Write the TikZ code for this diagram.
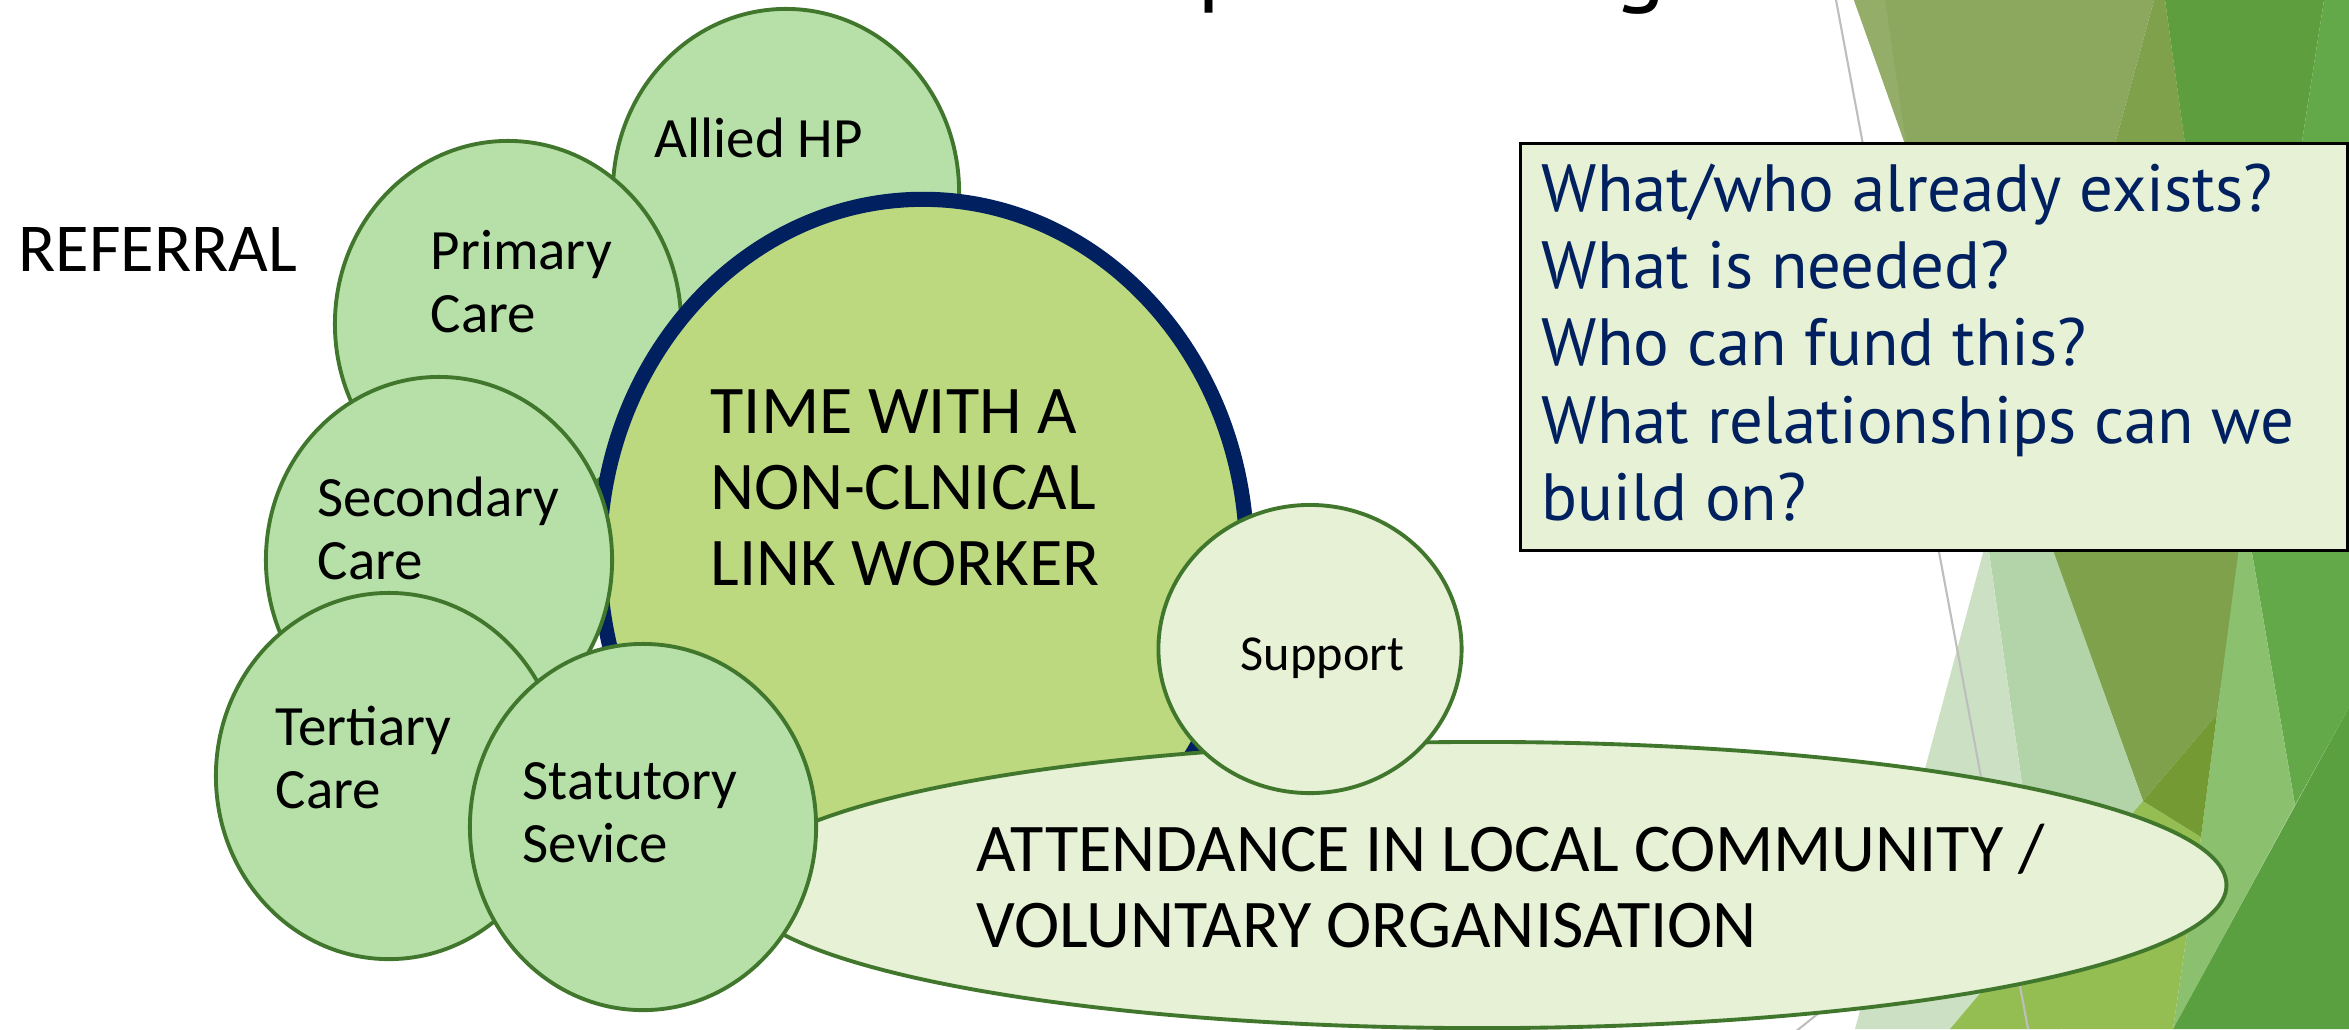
\documentclass[tikz,border=0pt]{standalone}
\usepackage{fontspec}
\setmainfont{Carlito}
\newfontfamily\boxfont{PT Sans}
\usetikzlibrary{shapes.geometric}

\definecolor{edgegreen}{RGB}{65,119,44}
\definecolor{srcfill}{RGB}{183,224,169}
\definecolor{corefill}{RGB}{189,217,127}
\definecolor{navyline}{RGB}{0,32,96}
\definecolor{palefill}{RGB}{230,241,214}
% backdrop facets
\definecolor{bgsliver}{RGB}{148,174,106}
\definecolor{bgolive}{RGB}{139,168,94}
\definecolor{bgdkolive}{RGB}{127,161,76}
\definecolor{bggreenA}{RGB}{95,158,62}
\definecolor{bggreenB}{RGB}{99,169,74}
\definecolor{bgltgreen}{RGB}{139,192,110}
\definecolor{bgdeep}{RGB}{91,160,64}
\definecolor{bgmint}{RGB}{179,211,169}
\definecolor{bgpale}{RGB}{204,225,196}
\definecolor{bgyellow}{RGB}{148,190,82}
\definecolor{bgmoss}{RGB}{116,154,51}
\definecolor{hairline}{RGB}{190,190,190}

\begin{document}
\begin{tikzpicture}[x=0.01cm,y=-0.01cm,
  srcnode/.style={ellipse, draw=edgegreen, line width=1.1pt, fill=srcfill,
    minimum width=3.46cm, minimum height=3.66cm, inner sep=0pt},
  palenode/.style={ellipse, draw=edgegreen, line width=1.1pt, fill=palefill, inner sep=0pt},
  % multi-line labels are placed by the baseline of their last line
  smalltxt/.style={anchor=base west, inner sep=0pt, align=left,
    font=\fontsize{16.2}{17.9}\selectfont},
  bigtxt/.style={anchor=base west, inner sep=0pt, align=left,
    font=\fontsize{19.4}{21.6}\selectfont},
]
\useasboundingbox (0,0) rectangle (2349,1029);

% slide title (mostly above the visible area)
\node (title) [anchor=base west, inner sep=0pt, font=\boxfont\fontsize{28}{30}\selectfont]
  at (917,-7) {Social prescribing};

% faceted green backdrop on the right
\fill[bgolive] (1854,0) -- (2154,0) -- (2025,475) -- cycle;
\fill[bgsliver] (1854,0) -- (1885,0) -- (1907,150) -- cycle;
\fill[bgdkolive] (2154,0) -- (2165,0) -- (2241,545) -- (2217,714) -- (2143,801) -- (2025,475) -- cycle;
\fill[bggreenA] (2165,0) -- (2324,0) -- (2240,540) -- cycle;
\fill[bggreenB] (2324,0) -- (2349,0) -- (2349,707) -- (2295,805) -- (2252,553) -- (2240,540) -- cycle;
\fill[bgltgreen] (2240,540) -- (2252,553) -- (2295,805) -- (2173,1029) -- (2201,837) -- (2217,714) -- cycle;
\fill[bgdeep] (2349,707) -- (2349,1029) -- (2173,1029) -- cycle;
\fill[bgmint] (1995,450) -- (2017,450) -- (2143,801) -- (2060,1029) -- (2057,1029) -- (1987,538) -- cycle;
\fill[bgpale] (1987,538) -- (2057,1029) -- (1855,1029) -- cycle;
\fill[bgyellow] (2143,801) -- (2201,837) -- (2173,1029) -- (1950,1029) -- cycle;
\fill[bgmoss] (2143,801) -- (2217,714) -- (2201,837) -- cycle;
\draw[hairline, line width=0.6pt] (1836,0) -- (2028,1029);
\draw[hairline, line width=0.6pt] (1790,1036) -- (1845,992);

% questions box
\node (qbox) [draw=black, line width=0.9pt, fill=palefill, anchor=north west,
  minimum width=8.26cm, minimum height=4.07cm, inner sep=0pt] at (1519,142) {};
\node (qtext) [anchor=base west, inner sep=0pt, align=left, text=navyline,
  font=\boxfont\fontsize{19}{21.9}\selectfont] at (1541,520)
  {What/who already exists?\\What is needed?\\Who can fund this?\\What relationships can we\\build on?};

% referral label
\node (referral) [anchor=base west, inner sep=0pt, font=\fontsize{19.5}{21}\selectfont]
  at (18,271) {REFERRAL};

% referral sources and the link worker
\node (allied) [srcnode] at (786,192) {};
\node (primary) [srcnode] at (508,324) {};
\node (core) [ellipse, draw=navyline, line width=4.3pt, fill=corefill, inner sep=0pt,
  minimum width=6.47cm, minimum height=7.13cm] at (923,556) {};
\node (secondary) [srcnode] at (439,560) {};
\node (tertiary) [srcnode] at (389,776) {};
\node (attend) [palenode, minimum width=14.88cm, minimum height=2.86cm] at (1482,885) {};
\node (statutory) [srcnode] at (643,827) {};
\node (support) [palenode, minimum width=3.03cm, minimum height=2.88cm] at (1310,649) {};

% labels
\node (tallied) [smalltxt] at (654,157) {Allied HP};
\node (tprimary) [smalltxt] at (430,332) {Primary\\Care};
\node (tsecondary) [smalltxt] at (317,579) {Secondary\\Care};
\node (ttertiary) [smalltxt] at (275,808) {Tertiary\\Care};
\node (tstatutory) [smalltxt] at (522,862) {Statutory\\Sevice};
\node (tcore) [bigtxt] at (710,585) {TIME WITH A\\NON-CLNICAL\\LINK WORKER};
\node (tsupport) [anchor=base west, inner sep=0pt, font=\fontsize{14.3}{16}\selectfont]
  at (1240,670) {Support};
\node (tattend) [bigtxt] at (976,947) {ATTENDANCE IN LOCAL COMMUNITY /\\VOLUNTARY ORGANISATION};
\end{tikzpicture}
\end{document}
